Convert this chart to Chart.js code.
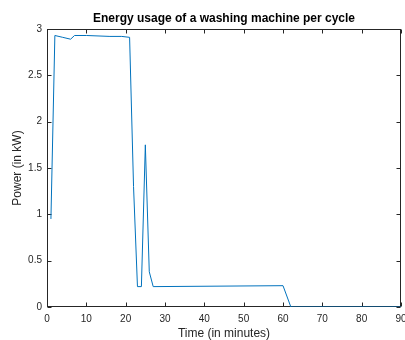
<!DOCTYPE html>
<html>
<head>
<meta charset="utf-8">
<script src="https://cdn.jsdelivr.net/npm/chart.js@4"></script>
<style>
  html, body { margin: 0; padding: 0; background: #fff; }
  #wrap { width: 405px; height: 340px; }
</style>
</head>
<body>
<div id="wrap"><canvas id="energyChart" width="405" height="340"></canvas></div>
<script>
'use strict'

// Time in minutes and power draw in kW
const minutes = [1, 2, 4, 6, 7, 10, 16, 19, 21, 22, 23, 24, 25, 26, 27, 60, 62, 90];
const powerKW = [0.95, 2.93, 2.91, 2.89, 2.93, 2.93, 2.92, 2.92, 2.91, 1.3, 0.22, 0.22, 1.75, 0.38, 0.22, 0.23, 0, 0];

const xTicks = [0, 10, 20, 30, 40, 50, 60, 70, 80, 90];
const yTicks = [0, 0.5, 1, 1.5, 2, 2.5, 3];

const axisColor = '#262626';
const font = 'Liberation Sans';

// MATLAB-style box with inward tick marks
const boxPlugin = {
    id: 'box',
    beforeDatasetsDraw(chart) {
        const { ctx, chartArea: a, scales: { x, y } } = chart;
        const l = Math.round(a.left) + 0.5, r = Math.round(a.right) - 0.5;
        const t = Math.round(a.top) + 0.5, b = Math.round(a.bottom) - 0.5;
        const len = 4;
        ctx.save();
        ctx.strokeStyle = axisColor;
        ctx.lineWidth = 1;
        ctx.strokeRect(l, t, r - l, b - t);
        ctx.beginPath();
        xTicks.forEach(v => {
            const px = Math.round(x.getPixelForValue(v)) + 0.5;
            ctx.moveTo(px, b); ctx.lineTo(px, b - len);
            ctx.moveTo(px, t); ctx.lineTo(px, t + len);
        });
        yTicks.forEach(v => {
            const py = Math.round(y.getPixelForValue(v)) + 0.5;
            ctx.moveTo(l, py); ctx.lineTo(l + len, py);
            ctx.moveTo(r, py); ctx.lineTo(r - len, py);
        });
        ctx.stroke();
        ctx.restore();
    }
};

const ctx = document.getElementById('energyChart').getContext('2d');
const energyChart = new Chart(ctx, {
    type: 'line',
    data: {
        datasets: [{
            label: 'Power',
            data: minutes.map((m, i) => ({ x: m, y: powerKW[i] })),
            borderColor: '#0072BD',
            borderWidth: 1,
            pointRadius: 0,
            tension: 0,
            fill: false
        }]
    },
    options: {
        responsive: false,
        animation: false,
        layout: { padding: { top: 0, bottom: 0, left: 0, right: 4 } },
        plugins: {
            legend: { display: false },
            tooltip: { enabled: false },
            title: {
                display: true,
                fullSize: false,
                text: 'Energy usage of a washing machine per cycle',
                color: '#000',
                font: { family: font, size: 12, weight: 'bold' },
                padding: { top: 11.8, bottom: 2.8 }
            }
        },
        scales: {
            x: {
                type: 'linear',
                min: 0,
                max: 90,
                border: { display: false },
                grid: { display: false, drawTicks: false },
                afterBuildTicks: s => { s.ticks = xTicks.map(v => ({ value: v })); },
                afterFit: s => { s.height = 33; s.paddingLeft = 0; s.paddingRight = 0; },
                ticks: {
                    color: axisColor,
                    padding: 6,
                    maxRotation: 0,
                    font: { family: font, size: 10 },
                    callback: v => String(v)
                },
                title: {
                    display: true,
                    text: 'Time (in minutes)',
                    color: axisColor,
                    font: { family: font, size: 12 },
                    padding: { top: 0, bottom: -0.5 }
                }
            },
            y: {
                min: 0,
                max: 3,
                border: { display: false },
                grid: { display: false, drawTicks: false },
                afterBuildTicks: s => { s.ticks = yTicks.map(v => ({ value: v })); },
                afterFit: s => { s.width = 47; },
                ticks: {
                    color: axisColor,
                    padding: 5,
                    font: { family: font, size: 10 },
                    callback: v => String(v)
                },
                title: {
                    display: true,
                    text: 'Power (in kW)',
                    color: axisColor,
                    font: { family: font, size: 12 },
                    padding: { top: 10, bottom: 0 }
                }
            }
        }
    },
    plugins: [boxPlugin]
});
</script>
</body>
</html>
